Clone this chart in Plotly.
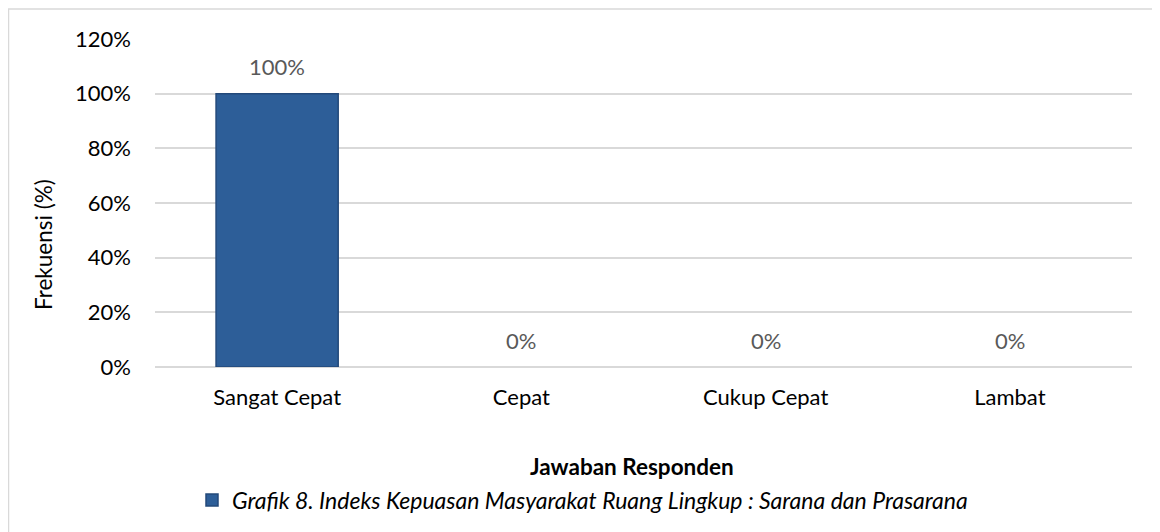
import plotly.graph_objects as go

W, H = 1160, 532

categories = ["Sangat Cepat", "Cepat", "Cukup Cepat", "Lambat"]
values = [100, 0, 0, 0]
value_labels = ["100%", "0%", "0%", "0%"]
tick_vals = [0, 20, 40, 60, 80, 100, 120]
tick_text = ["0%", "20%", "40%", "60%", "80%", "100%", "120%"]
series_name = "Grafik 8. Indeks Kepuasan Masyarakat Ruang Lingkup : Sarana dan Prasarana"

FONT = "Lato, 'Open Sans', sans-serif"
GRID = "#D9D9D9"
FS = 22

# plot area in pixels (page has an 8px body margin)
L, R, T, B = 147, 1124, 31, 359

fig = go.Figure()

fig.add_trace(
    go.Bar(
        x=categories,
        y=values,
        name=series_name,
        marker=dict(
            color="#2D5E98",
            line=dict(color="#23497A", width=[1.5 if v > 0 else 0 for v in values]),
        ),
        showlegend=True,
    )
)

# data labels above the bars
for cat, v, lab in zip(categories, values, value_labels):
    fig.add_annotation(
        x=cat, y=v, text=lab, showarrow=False,
        yanchor="middle", yshift=27,
        font=dict(color="#595959", size=FS, family=FONT),
    )

# axis titles
fig.add_annotation(
    xref="paper", yref="paper", x=0.5, y=0, yanchor="middle", yshift=-99, xshift=-12,
    text="<b>Jawaban Responden</b>", showarrow=False,
    font=dict(size=22.5, color="#000000", family=FONT),
)
fig.add_annotation(
    xref="paper", yref="paper", x=0, y=0.5, xanchor="center", yanchor="middle",
    xshift=-(L - 35), yshift=-42,
    text="Frekuensi (%)", textangle=-90, showarrow=False,
    font=dict(size=22.5, color="#000000", family=FONT),
)

# outer chart border
fig.add_shape(
    type="rect",
    xref="paper", yref="paper",
    x0=(0.5 - L) / (R - L), x1=(1151 - L) / (R - L),
    y0=(B - 545) / (B - T), y1=(B - 1) / (B - T),
    line=dict(color="#D9D9D9", width=1.5),
    fillcolor="rgba(0,0,0,0)",
    layer="below",
)

fig.update_layout(
    width=W,
    height=H,
    margin=dict(l=L, r=W - R, t=T, b=H - B),
    paper_bgcolor="white",
    plot_bgcolor="white",
    font=dict(family=FONT, color="#000000", size=FS),
    bargap=0.5,
    showlegend=True,
    legend=dict(
        orientation="h",
        xref="container", yref="container",
        x=(192 - 8) / W, y=1 - 492 / H,
        xanchor="left", yanchor="middle",
        font=dict(size=23, family=FONT, color="#000000", style="italic"),
        itemwidth=30,
    ),
    xaxis=dict(
        showgrid=False,
        showline=False,
        ticks="",
        ticklabelstandoff=15,
        tickfont=dict(size=FS, color="#000000"),
    ),
    yaxis=dict(
        range=[0, 120],
        tickvals=tick_vals,
        ticktext=tick_text,
        showgrid=True,
        gridcolor=GRID,
        gridwidth=1.5,
        zeroline=True,
        zerolinecolor=GRID,
        zerolinewidth=1.5,
        showline=False,
        ticks="",
        ticklabelstandoff=23,
        tickfont=dict(size=FS, color="#000000"),
    ),
)

fig.write_html("out.html")
